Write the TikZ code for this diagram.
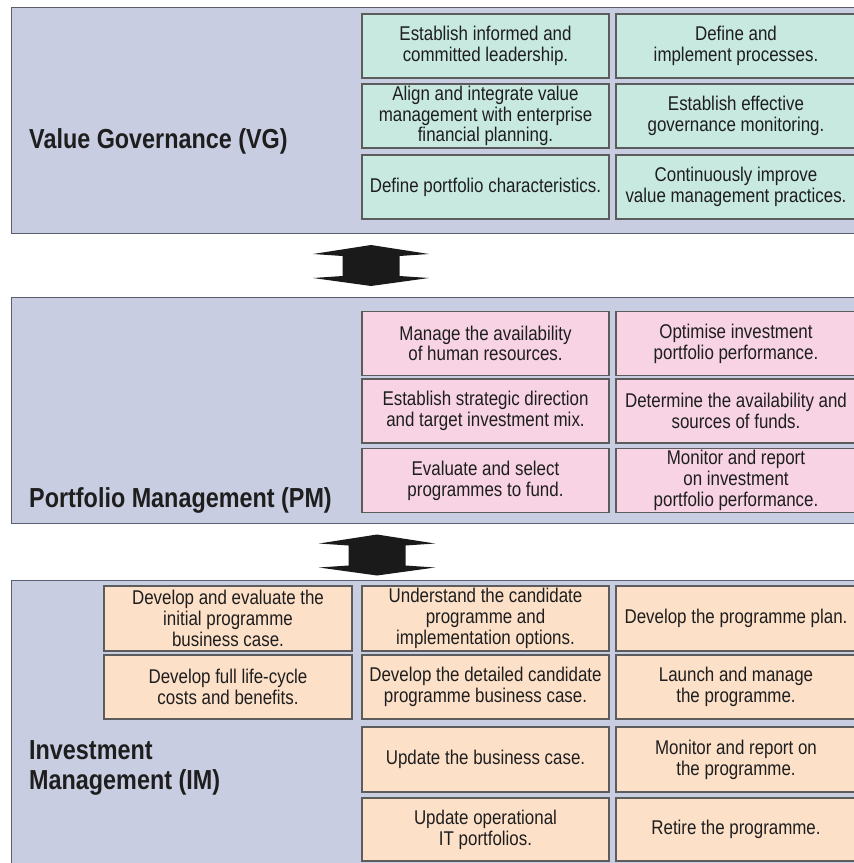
\documentclass[tikz,border=0pt]{standalone}
\usepackage{fontspec}
\setmainfont{Liberation Sans}[FakeStretch=0.85]
\definecolor{panelfill}{HTML}{C9CDE1}
\definecolor{panelline}{HTML}{5A5E6C}
\definecolor{boxline}{HTML}{5C5C5C}
\definecolor{mint}{HTML}{C8E9E0}
\definecolor{pinkf}{HTML}{F7D3E4}
\definecolor{peach}{HTML}{FDE0C8}
\definecolor{txt}{HTML}{1E1E1E}
\definecolor{arrowfill}{HTML}{1A1A1A}
\begin{document}
\begin{tikzpicture}[x=1pt,y=-1pt,
  panel/.style={draw=panelline, fill=panelfill, line width=1.4pt, inner sep=0pt, anchor=north west},
  boxbase/.style={draw=boxline, line width=1.3pt, inner sep=0pt, align=center,
    font=\fontsize{19.9}{20.7}\selectfont, text=txt, minimum height=64pt},
  vgbox/.style={boxbase, fill=mint},
  pmbox/.style={boxbase, fill=pinkf},
  imbox/.style={boxbase, fill=peach},
  colA/.style={minimum width=248pt},
  colB/.style={minimum width=247pt},
  colC/.style={minimum width=240pt},
  title/.style={font=\fontsize{27.5}{30}\selectfont\bfseries, text=txt, inner sep=0pt, anchor=base west, align=left},
  dblarr/.pic={\fill[arrowfill] (0,-20.5) -- (58,-11.5) -- (28.5,-9.5) -- (28.5,10.5) -- (58,12.5) -- (0,20.5) -- (-58,12.5) -- (-28.5,10.5) -- (-28.5,-9.5) -- (-58,-11.5) -- cycle;}
]
\useasboundingbox (0,0) rectangle (854,863);
\clip (0,0) rectangle (854,863);

% panels
\node[panel, minimum width=850pt, minimum height=226pt] (vg) at (11,7) {};
\node[panel, minimum width=850pt, minimum height=226pt] (pm) at (11,297) {};
\node[panel, minimum width=850pt, minimum height=300pt] (im) at (11,580) {};

% titles
\node[title] (vgt) at (29,148) {Value Governance (VG)};
\node[title] (pmt) at (29,507) {Portfolio Management (PM)};
\node[title, anchor=north west] (imt) at (29,740) {Investment\\Management (IM)};

% VG boxes
\node[vgbox, colB] (vg11) at (485.5,46) {Establish informed and\\committed leadership.};
\node[vgbox, colC] (vg12) at (736,46) {Define and\\implement processes.};
\node[vgbox, colB] (vg21) at (485.5,116) {Align and integrate value\\management with enterprise\\financial planning.};
\node[vgbox, colC] (vg22) at (736,116) {Establish effective\\governance monitoring.};
\node[vgbox, colB] (vg31) at (485.5,187) {Define portfolio characteristics.};
\node[vgbox, colC] (vg32) at (736,187) {Continuously improve\\value management practices.};

% PM boxes
\node[pmbox, colB] (pm11) at (485.5,343.5) {Manage the availability\\of human resources.};
\node[pmbox, colC] (pm12) at (736,343.5) {Optimise investment\\portfolio performance.};
\node[pmbox, colB] (pm21) at (485.5,411) {Establish strategic direction\\and target investment mix.};
\node[pmbox, colC] (pm22) at (736,411) {Determine the availability and\\sources of funds.};
\node[pmbox, colB] (pm31) at (485.5,480.5) {Evaluate and select\\programmes to fund.};
\node[pmbox, colC] (pm32) at (736,480.5) {Monitor and report\\on investment\\portfolio performance.};

% IM boxes
\node[imbox, colA, minimum height=65pt] (im10) at (228,618.5) {Develop and evaluate the\\initial programme\\business case.};
\node[imbox, colB, minimum height=65pt] (im11) at (485.5,618.5) {Understand the candidate\\programme and\\implementation options.};
\node[imbox, colC, minimum height=65pt] (im12) at (736,618.5) {Develop the programme plan.};
\node[imbox, colA] (im20) at (228,687) {Develop full life-cycle\\costs and benefits.};
\node[imbox, colB] (im21) at (485.5,687) {Develop the detailed candidate\\programme business case.};
\node[imbox, colC] (im22) at (736,687) {Launch and manage\\the programme.};
\node[imbox, colB, minimum height=65pt] (im31) at (485.5,759.5) {Update the business case.};
\node[imbox, colC, minimum height=65pt] (im32) at (736,759.5) {Monitor and report on\\the programme.};
\node[imbox, colB, minimum height=63pt] (im41) at (485.5,829.5) {Update operational\\IT portfolios.};
\node[imbox, colC, minimum height=63pt] (im42) at (736,829.5) {Retire the programme.};

% double arrows between layers
\pic at (371,265.5) {dblarr};
\pic at (377,555) {dblarr};
\end{tikzpicture}
\end{document}
